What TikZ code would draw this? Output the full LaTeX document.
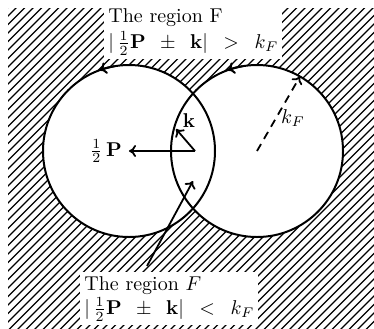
\documentclass[tikz,border=0pt]{standalone}
\usepackage{amsmath}
\usetikzlibrary{arrows.meta,calc}
\begin{document}
\begin{tikzpicture}[x=0.5pt, y=-0.5pt,
    hatch/.style={line width=0.6pt},
    sphereline/.style={line width=1pt},
    vecline/.style={line width=0.9pt, -{To[length=3.5pt,width=6pt]}},
    regionlabel/.style={fill=white, inner sep=2pt, align=left}]
    \def\radiusF{86}

    \useasboundingbox (0,0) rectangle (374,328);

    % Centres of the two spheres
    \coordinate (centreL) at (129,151);
    \coordinate (centreR) at (257,151);
    \coordinate (mid) at (195,151);

    % Draw hatching of the outer region
    \begin{scope}
        \clip (8,8) rectangle (374,328);
        \foreach \i in {0,...,84}
            \draw[hatch] ({\i*8.5-340},330) -- ++(345,-345);
    \end{scope}

    % Blank the inside of the spheres
    \fill[white] (centreL) circle[radius=\radiusF];
    \fill[white] (centreR) circle[radius=\radiusF];

    % Region labels
    \node[regionlabel, anchor=north west] (regionFbar) at (104,4)
        {The region F\\[1pt]
         $|\,\tfrac{1}{2}\mathbf{P}\enspace\pm\enspace\mathbf{k}|\enspace>\enspace k_F$};
    \node[regionlabel, anchor=north west] (regionF) at (80,272)
        {The region $F$\\
         $|\,\tfrac{1}{2}\mathbf{P}\enspace\pm\enspace\mathbf{k}|\enspace<\enspace k_F$};

    % Draw the spheres
    \draw[sphereline] (centreL) circle[radius=\radiusF];
    \draw[sphereline] (centreR) circle[radius=\radiusF];

    % Orientation marks on the spheres
    \draw[sphereline, -{To[length=3.5pt,width=6pt]}] ($(centreL)+(-100:\radiusF)$)
        arc[start angle=-100, end angle=-110, radius=\radiusF];
    \draw[sphereline, -{To[length=3.5pt,width=6pt]}] ($(centreR)+(-100:\radiusF)$)
        arc[start angle=-100, end angle=-110, radius=\radiusF];

    % Vectors P/2 and k
    \node (halfP) at (106,151) {$\tfrac{1}{2}\,\mathbf{P}$};
    \draw[vecline] (mid) -- (halfP.east);
    \coordinate (ktip) at (176,129);
    \draw[vecline] (mid) -- (ktip);
    \node (kvec) at (189,121) {$\mathbf{k}$};

    % Radius k_F
    \coordinate (kFtip) at ($(centreR)+(-60:\radiusF)$);
    \draw[vecline, dash pattern=on 4pt off 3pt] (centreR) -- (kFtip);
    \node (kF) at (293,118) {$k_F$};

    % Pointer to the overlap
    \coordinate (Fstart) at (147,266);
    \coordinate (lensPt) at (193,181);
    \draw[vecline] (Fstart) -- (lensPt);

\end{tikzpicture}
\end{document}
